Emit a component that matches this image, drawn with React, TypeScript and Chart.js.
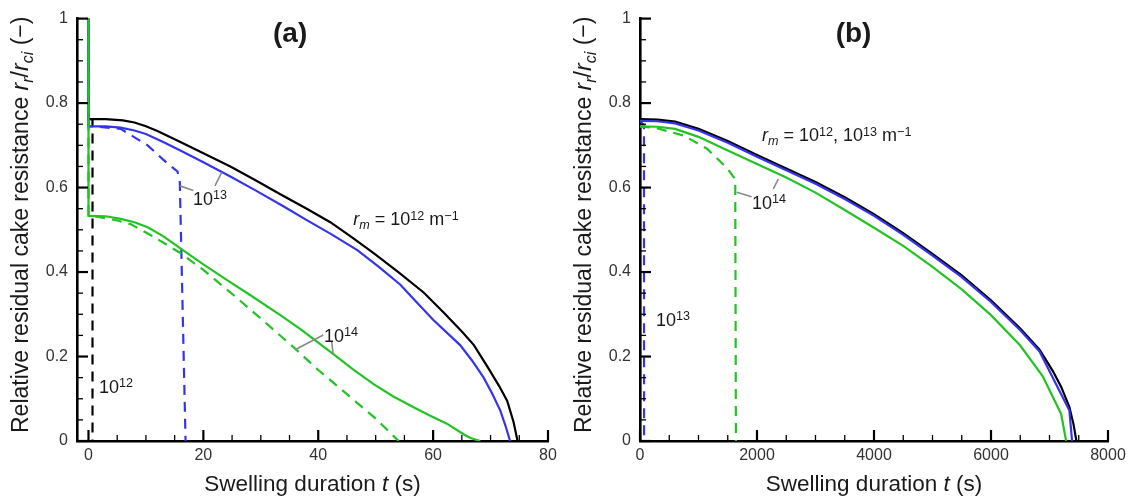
import React, { useEffect, useRef } from "react";
import { Chart, registerables } from "chart.js";

Chart.register(...registerables);

const FONT = '"Liberation Sans", Arial, Helvetica, sans-serif';
const BLACK = "#000000";
const BLUE = "#3434ee";
const GREEN = "#22c322";
const LEADER = "#8a8a8a";
const TEXT = "#1a1a1a";
const TICK_TEXT = "#333333";

// ---------------- Panel (a): t in s, r_r/r_ci (-) ----------------
const A_X_TICKS = [0, 20, 40, 60, 80];
const A_X_MINOR = [5, 10, 15, 25, 30, 35, 45, 50, 55, 65, 70, 75];

const A_BLACK_SOLID_T = [0, 0, 3, 6, 8, 10, 12, 14, 16, 20, 24.7, 29, 33.4, 38, 42.1, 46, 49.7, 54, 58.4, 62, 65, 67.1, 69.5, 71.5, 72.9, 74, 74.7];
const A_BLACK_SOLID_R = [1, 0.762, 0.762, 0.759, 0.754, 0.745, 0.734, 0.721, 0.708, 0.681, 0.65, 0.618, 0.584, 0.55, 0.518, 0.481, 0.444, 0.399, 0.351, 0.302, 0.259, 0.227, 0.175, 0.13, 0.095, 0.045, 0];
const A_BLACK_DASH_T = [0, 0, 0.7, 0.7];
const A_BLACK_DASH_R = [1, 0.762, 0.762, 0];

const A_BLUE_SOLID_T = [0, 0, 3, 5.6, 8, 10, 13, 16, 20, 24.7, 29, 34, 38, 42.1, 46.8, 50.5, 54.3, 56.6, 60, 64.7, 66.8, 68.8, 70.3, 71.7, 72.6, 73.4];
const A_BLUE_SOLID_R = [1, 0.745, 0.745, 0.742, 0.735, 0.727, 0.708, 0.688, 0.66, 0.626, 0.594, 0.555, 0.523, 0.491, 0.452, 0.413, 0.37, 0.336, 0.287, 0.227, 0.19, 0.15, 0.112, 0.072, 0.036, 0];
const A_BLUE_DASH_T = [0, 0, 1, 5.6, 10.3, 13, 15.5, 15.9, 16.9];
const A_BLUE_DASH_R = [1, 0.745, 0.745, 0.739, 0.7, 0.666, 0.638, 0.612, 0];

const A_GREEN_SOLID_T = [0, 0, 3, 5.6, 8, 10.3, 13, 16, 20, 24, 28.2, 33.4, 36.9, 39.2, 42.7, 46, 49.7, 53, 56.6, 59.5, 62.4, 65.3, 66.5, 68.2];
const A_GREEN_SOLID_R = [1, 0.533, 0.532, 0.526, 0.518, 0.506, 0.485, 0.456, 0.418, 0.382, 0.345, 0.298, 0.265, 0.241, 0.205, 0.17, 0.134, 0.106, 0.08, 0.06, 0.041, 0.016, 0.007, 0];
const A_GREEN_DASH_T = [0, 0, 1, 5, 7.4, 11.4, 16, 20, 25.3, 28.2, 32, 35.8, 40, 45, 50, 54];
const A_GREEN_DASH_R = [1, 0.533, 0.532, 0.522, 0.513, 0.483, 0.445, 0.405, 0.345, 0.311, 0.266, 0.221, 0.168, 0.111, 0.053, 0];

// ---------------- Panel (b) ----------------
const B_X_TICKS = [0, 2000, 4000, 6000, 8000];
const B_X_MINOR = [500, 1000, 1500, 2500, 3000, 3500, 4500, 5000, 5500, 6500, 7000, 7500];

const B_BLACK_SOLID_T = [0, 300, 600, 1000, 1500, 2000, 2500, 3000, 3500, 4000, 4500, 5000, 5500, 6000, 6500, 6830, 7060, 7200, 7340, 7410, 7460];
const B_BLACK_SOLID_R = [0.762, 0.761, 0.756, 0.739, 0.71, 0.677, 0.645, 0.613, 0.577, 0.537, 0.492, 0.443, 0.392, 0.333, 0.266, 0.216, 0.165, 0.128, 0.08, 0.04, 0];
const B_BLUE_SOLID_T = [0, 300, 600, 1000, 1500, 2000, 2500, 3000, 3500, 4000, 4500, 5000, 5500, 6000, 6500, 6830, 7340, 7386];
const B_BLUE_SOLID_R = [0.758, 0.757, 0.752, 0.735, 0.706, 0.673, 0.641, 0.609, 0.573, 0.533, 0.488, 0.439, 0.388, 0.329, 0.262, 0.212, 0.072, 0];
const B_BLUE_DASH_T = [0, 68, 70];
const B_BLUE_DASH_R = [0.758, 0.747, 0];
const B_GREEN_SOLID_T = [0, 300, 600, 1000, 1500, 2000, 2500, 3000, 3500, 4000, 4500, 5000, 5500, 6000, 6500, 6885, 7199, 7284];
const B_GREEN_SOLID_R = [0.745, 0.744, 0.739, 0.72, 0.688, 0.656, 0.624, 0.588, 0.547, 0.505, 0.462, 0.412, 0.359, 0.298, 0.226, 0.153, 0.064, 0];
const B_GREEN_DASH_T = [0, 300, 747, 1146, 1487, 1600, 1628, 1640];
const B_GREEN_DASH_R = [0.745, 0.74, 0.723, 0.692, 0.646, 0.625, 0.618, 0];

// ---------------- shared y axis ----------------
const Y_TICKS = [0, 0.2, 0.4, 0.6, 0.8, 1];
const Y_MINOR = [0.05, 0.1, 0.15, 0.25, 0.3, 0.35, 0.45, 0.5, 0.55, 0.65, 0.7, 0.75, 0.85, 0.9, 0.95];

type Seg = { s: string; it?: boolean; sup?: boolean; sub?: boolean };
type TextNote = { x: number; y: number; segs: Seg[]; size: number; bold?: boolean; center?: boolean };
type LineNote = { x1: number; y1: number; x2: number; y2: number };

const A_TEXTS: TextNote[] = [
  { x: 35.1, y: 0.963, segs: [{ s: "(a)" }], size: 28, bold: true, center: true },
  { x: 18.2, y: 0.559, segs: [{ s: "10" }, { s: "13", sup: true }], size: 18 },
  { x: 1.83, y: 0.114, segs: [{ s: "10" }, { s: "12", sup: true }], size: 18 },
  { x: 41.0, y: 0.235, segs: [{ s: "10" }, { s: "14", sup: true }], size: 18 },
  { x: 46.1, y: 0.511, segs: [{ s: "r", it: true }, { s: "m", it: true, sub: true }, { s: " = 10" }, { s: "12", sup: true }, { s: " m" }, { s: "\u22121", sup: true }], size: 18 },
];
const A_LINES: LineNote[] = [
  { x1: 15.93, y1: 0.604, x2: 18.25, y2: 0.593 },
  { x1: 23.19, y1: 0.636, x2: 22.02, y2: 0.604 },
  { x1: 35.95, y1: 0.216, x2: 40.88, y2: 0.251 },
  { x1: 42.34, y1: 0.235, x2: 42.62, y2: 0.204 },
];
const B_TEXTS: TextNote[] = [
  { x: 3650, y: 0.963, segs: [{ s: "(b)" }], size: 28, bold: true, center: true },
  { x: 2085, y: 0.71, segs: [{ s: "r", it: true }, { s: "m", it: true, sub: true }, { s: " = 10" }, { s: "12", sup: true }, { s: ", 10" }, { s: "13", sup: true }, { s: " m" }, { s: "\u22121", sup: true }], size: 18 },
  { x: 1915, y: 0.55, segs: [{ s: "10" }, { s: "14", sup: true }], size: 18 },
  { x: 274, y: 0.273, segs: [{ s: "10" }, { s: "13", sup: true }], size: 18 },
];
const B_LINES: LineNote[] = [
  { x1: 1653, y1: 0.589, x2: 1909, y2: 0.578 },
  { x1: 2364, y1: 0.62, x2: 2279, y2: 0.597 },
];

const Y_TITLE: Seg[] = [
  { s: "Relative residual cake resistance " },
  { s: "r", it: true },
  { s: "r", it: true, sub: true },
  { s: "/" },
  { s: "r", it: true },
  { s: "ci", it: true, sub: true },
  { s: " (\u2212)" },
];
const X_TITLE: Seg[] = [{ s: "Swelling duration " }, { s: "t", it: true }, { s: " (s)" }];

type Series = { t: number[]; r: number[]; color: string; dashed: boolean };
type Panel = {
  xMin: number;
  xMax: number;
  xTicks: number[];
  xMinor: number[];
  yWidth: number;
  padRight: number;
  series: Series[];
  texts: TextNote[];
  lines: LineNote[];
};

const PANEL_A: Panel = {
  xMin: -2,
  xMax: 80,
  xTicks: A_X_TICKS,
  xMinor: A_X_MINOR,
  yWidth: 77,
  padRight: 18,
  series: [
    { t: A_GREEN_SOLID_T, r: A_GREEN_SOLID_R, color: GREEN, dashed: false },
    { t: A_GREEN_DASH_T, r: A_GREEN_DASH_R, color: GREEN, dashed: true },
    { t: A_BLUE_SOLID_T, r: A_BLUE_SOLID_R, color: BLUE, dashed: false },
    { t: A_BLUE_DASH_T, r: A_BLUE_DASH_R, color: BLUE, dashed: true },
    { t: A_BLACK_SOLID_T, r: A_BLACK_SOLID_R, color: BLACK, dashed: false },
    { t: A_BLACK_DASH_T, r: A_BLACK_DASH_R, color: BLACK, dashed: true },
  ],
  texts: A_TEXTS,
  lines: A_LINES,
};

const PANEL_B: Panel = {
  xMin: 0,
  xMax: 8000,
  xTicks: B_X_TICKS,
  xMinor: B_X_MINOR,
  yWidth: 74,
  padRight: 25,
  series: [
    { t: B_GREEN_SOLID_T, r: B_GREEN_SOLID_R, color: GREEN, dashed: false },
    { t: B_GREEN_DASH_T, r: B_GREEN_DASH_R, color: GREEN, dashed: true },
    { t: B_BLUE_SOLID_T, r: B_BLUE_SOLID_R, color: BLUE, dashed: false },
    { t: B_BLUE_DASH_T, r: B_BLUE_DASH_R, color: BLUE, dashed: true },
    { t: B_BLACK_SOLID_T, r: B_BLACK_SOLID_R, color: BLACK, dashed: false },
  ],
  texts: B_TEXTS,
  lines: B_LINES,
};

function segFont(seg: Seg, size: number, bold?: boolean) {
  const sz = seg.sup || seg.sub ? size * 0.7 : size;
  return `${seg.it ? "italic " : ""}${bold ? "bold " : ""}${sz}px ${FONT}`;
}

function richWidth(ctx: CanvasRenderingContext2D, segs: Seg[], size: number, bold?: boolean) {
  let w = 0;
  for (const seg of segs) {
    ctx.font = segFont(seg, size, bold);
    w += ctx.measureText(seg.s).width;
  }
  return w;
}

function drawRich(ctx: CanvasRenderingContext2D, segs: Seg[], x: number, y: number, size: number, bold?: boolean) {
  let cx = x;
  for (const seg of segs) {
    ctx.font = segFont(seg, size, bold);
    const dy = seg.sup ? -size * 0.3 : seg.sub ? size * 0.22 : 0;
    ctx.fillText(seg.s, cx, y + dy);
    cx += ctx.measureText(seg.s).width;
  }
}

function makePlugin(panel: Panel) {
  return {
    id: "overlay",
    afterDatasetsDraw(chart: any) {
      const ctx: CanvasRenderingContext2D = chart.ctx;
      const xs = chart.scales.x;
      const ys = chart.scales.y;
      const ca = chart.chartArea;
      ctx.save();
      ctx.strokeStyle = "#000";
      ctx.lineCap = "butt";
      const xTick = (vals: number[], len: number, w: number) => {
        ctx.lineWidth = w;
        for (const v of vals) {
          const px = xs.getPixelForValue(v);
          ctx.beginPath();
          ctx.moveTo(px, ca.bottom);
          ctx.lineTo(px, ca.bottom - len);
          ctx.stroke();
        }
      };
      const yTick = (vals: number[], len: number, w: number) => {
        ctx.lineWidth = w;
        for (const v of vals) {
          const py = ys.getPixelForValue(v);
          ctx.beginPath();
          ctx.moveTo(ca.left, py);
          ctx.lineTo(ca.left + len, py);
          ctx.stroke();
        }
      };
      xTick(panel.xTicks, 11, 2.2);
      xTick(panel.xMinor, 6, 1.3);
      yTick(Y_TICKS, 11, 2.2);
      yTick(Y_MINOR, 6, 1.3);

      // leader lines
      ctx.strokeStyle = LEADER;
      ctx.lineWidth = 1.6;
      for (const l of panel.lines) {
        ctx.beginPath();
        ctx.moveTo(xs.getPixelForValue(l.x1), ys.getPixelForValue(l.y1));
        ctx.lineTo(xs.getPixelForValue(l.x2), ys.getPixelForValue(l.y2));
        ctx.stroke();
      }

      // texts
      ctx.fillStyle = TEXT;
      for (const n of panel.texts) {
        const px = xs.getPixelForValue(n.x);
        const py = ys.getPixelForValue(n.y);
        if (n.center) {
          ctx.textBaseline = "middle";
          ctx.textAlign = "center";
          ctx.font = segFont(n.segs[0], n.size, n.bold);
          ctx.fillText(n.segs[0].s, px, py);
        } else {
          ctx.textBaseline = "alphabetic";
          ctx.textAlign = "left";
          drawRich(ctx, n.segs, px, py, n.size, n.bold);
        }
      }

      // axis titles
      ctx.textAlign = "left";
      ctx.textBaseline = "alphabetic";
      const xSize = 22.5;
      const xw = richWidth(ctx, X_TITLE, xSize);
      drawRich(ctx, X_TITLE, (ca.left + ca.right) / 2 - xw / 2, 491, xSize);
      const ySize = 23;
      const yw = richWidth(ctx, Y_TITLE, ySize);
      ctx.save();
      ctx.translate(ca.left - 49, (ca.top + ca.bottom) / 2 - 5);
      ctx.rotate(-Math.PI / 2);
      drawRich(ctx, Y_TITLE, -yw / 2, 0, ySize);
      ctx.restore();
      ctx.restore();
    },
  };
}

function buildConfig(panel: Panel): any {
  const datasets = panel.series.map((s) => ({
    data: s.t.map((t, i) => ({ x: t, y: s.r[i] })),
    borderColor: s.color,
    backgroundColor: s.color,
    borderWidth: 2.2,
    borderDash: s.dashed ? [10, 7] : [],
    pointRadius: 0,
    pointHoverRadius: 0,
    tension: 0,
    fill: false,
  }));
  return {
    type: "line",
    data: { datasets },
    options: {
      responsive: false,
      animation: false,
      events: [],
      layout: { padding: { left: 0, right: panel.padRight, top: 12, bottom: 0 } },
      plugins: { legend: { display: false }, tooltip: { enabled: false }, title: { display: false } },
      scales: {
        x: {
          type: "linear",
          min: panel.xMin,
          max: panel.xMax,
          afterBuildTicks: (scale: any) => {
            scale.ticks = panel.xTicks.map((v) => ({ value: v }));
          },
          afterFit: (scale: any) => {
            scale.height = 59;
          },
          grid: { display: false, drawTicks: false },
          border: { display: true, color: "#000", width: 2.6 },
          ticks: {
            color: TICK_TEXT,
            font: { family: FONT, size: 16 },
            padding: 5,
            maxRotation: 0,
            autoSkip: false,
            callback: (v: any) => String(v),
          },
        },
        y: {
          type: "linear",
          min: 0,
          max: 1,
          afterBuildTicks: (scale: any) => {
            scale.ticks = Y_TICKS.map((v) => ({ value: v }));
          },
          afterFit: (scale: any) => {
            scale.width = panel.yWidth;
          },
          grid: { display: false, drawTicks: false },
          border: { display: true, color: "#000", width: 2.6 },
          ticks: {
            color: TICK_TEXT,
            font: { family: FONT, size: 16 },
            padding: 9,
            autoSkip: false,
            callback: (v: any) => String(v),
          },
        },
      },
    },
    plugins: [makePlugin(panel)],
  };
}

export default function App() {
  const refA = useRef<HTMLCanvasElement>(null);
  const refB = useRef<HTMLCanvasElement>(null);
  useEffect(() => {
    const a = new Chart(refA.current as HTMLCanvasElement, buildConfig(PANEL_A));
    const b = new Chart(refB.current as HTMLCanvasElement, buildConfig(PANEL_B));
    return () => {
      a.destroy();
      b.destroy();
    };
  }, []);
  return (
    <div style={{ position: "absolute", left: 0, top: 0, width: 1133, height: 500, background: "#ffffff" }}>
      <canvas ref={refA} width={566} height={500} style={{ position: "absolute", left: 0, top: 0 }} />
      <canvas ref={refB} width={567} height={500} style={{ position: "absolute", left: 566, top: 0 }} />
    </div>
  );
}
